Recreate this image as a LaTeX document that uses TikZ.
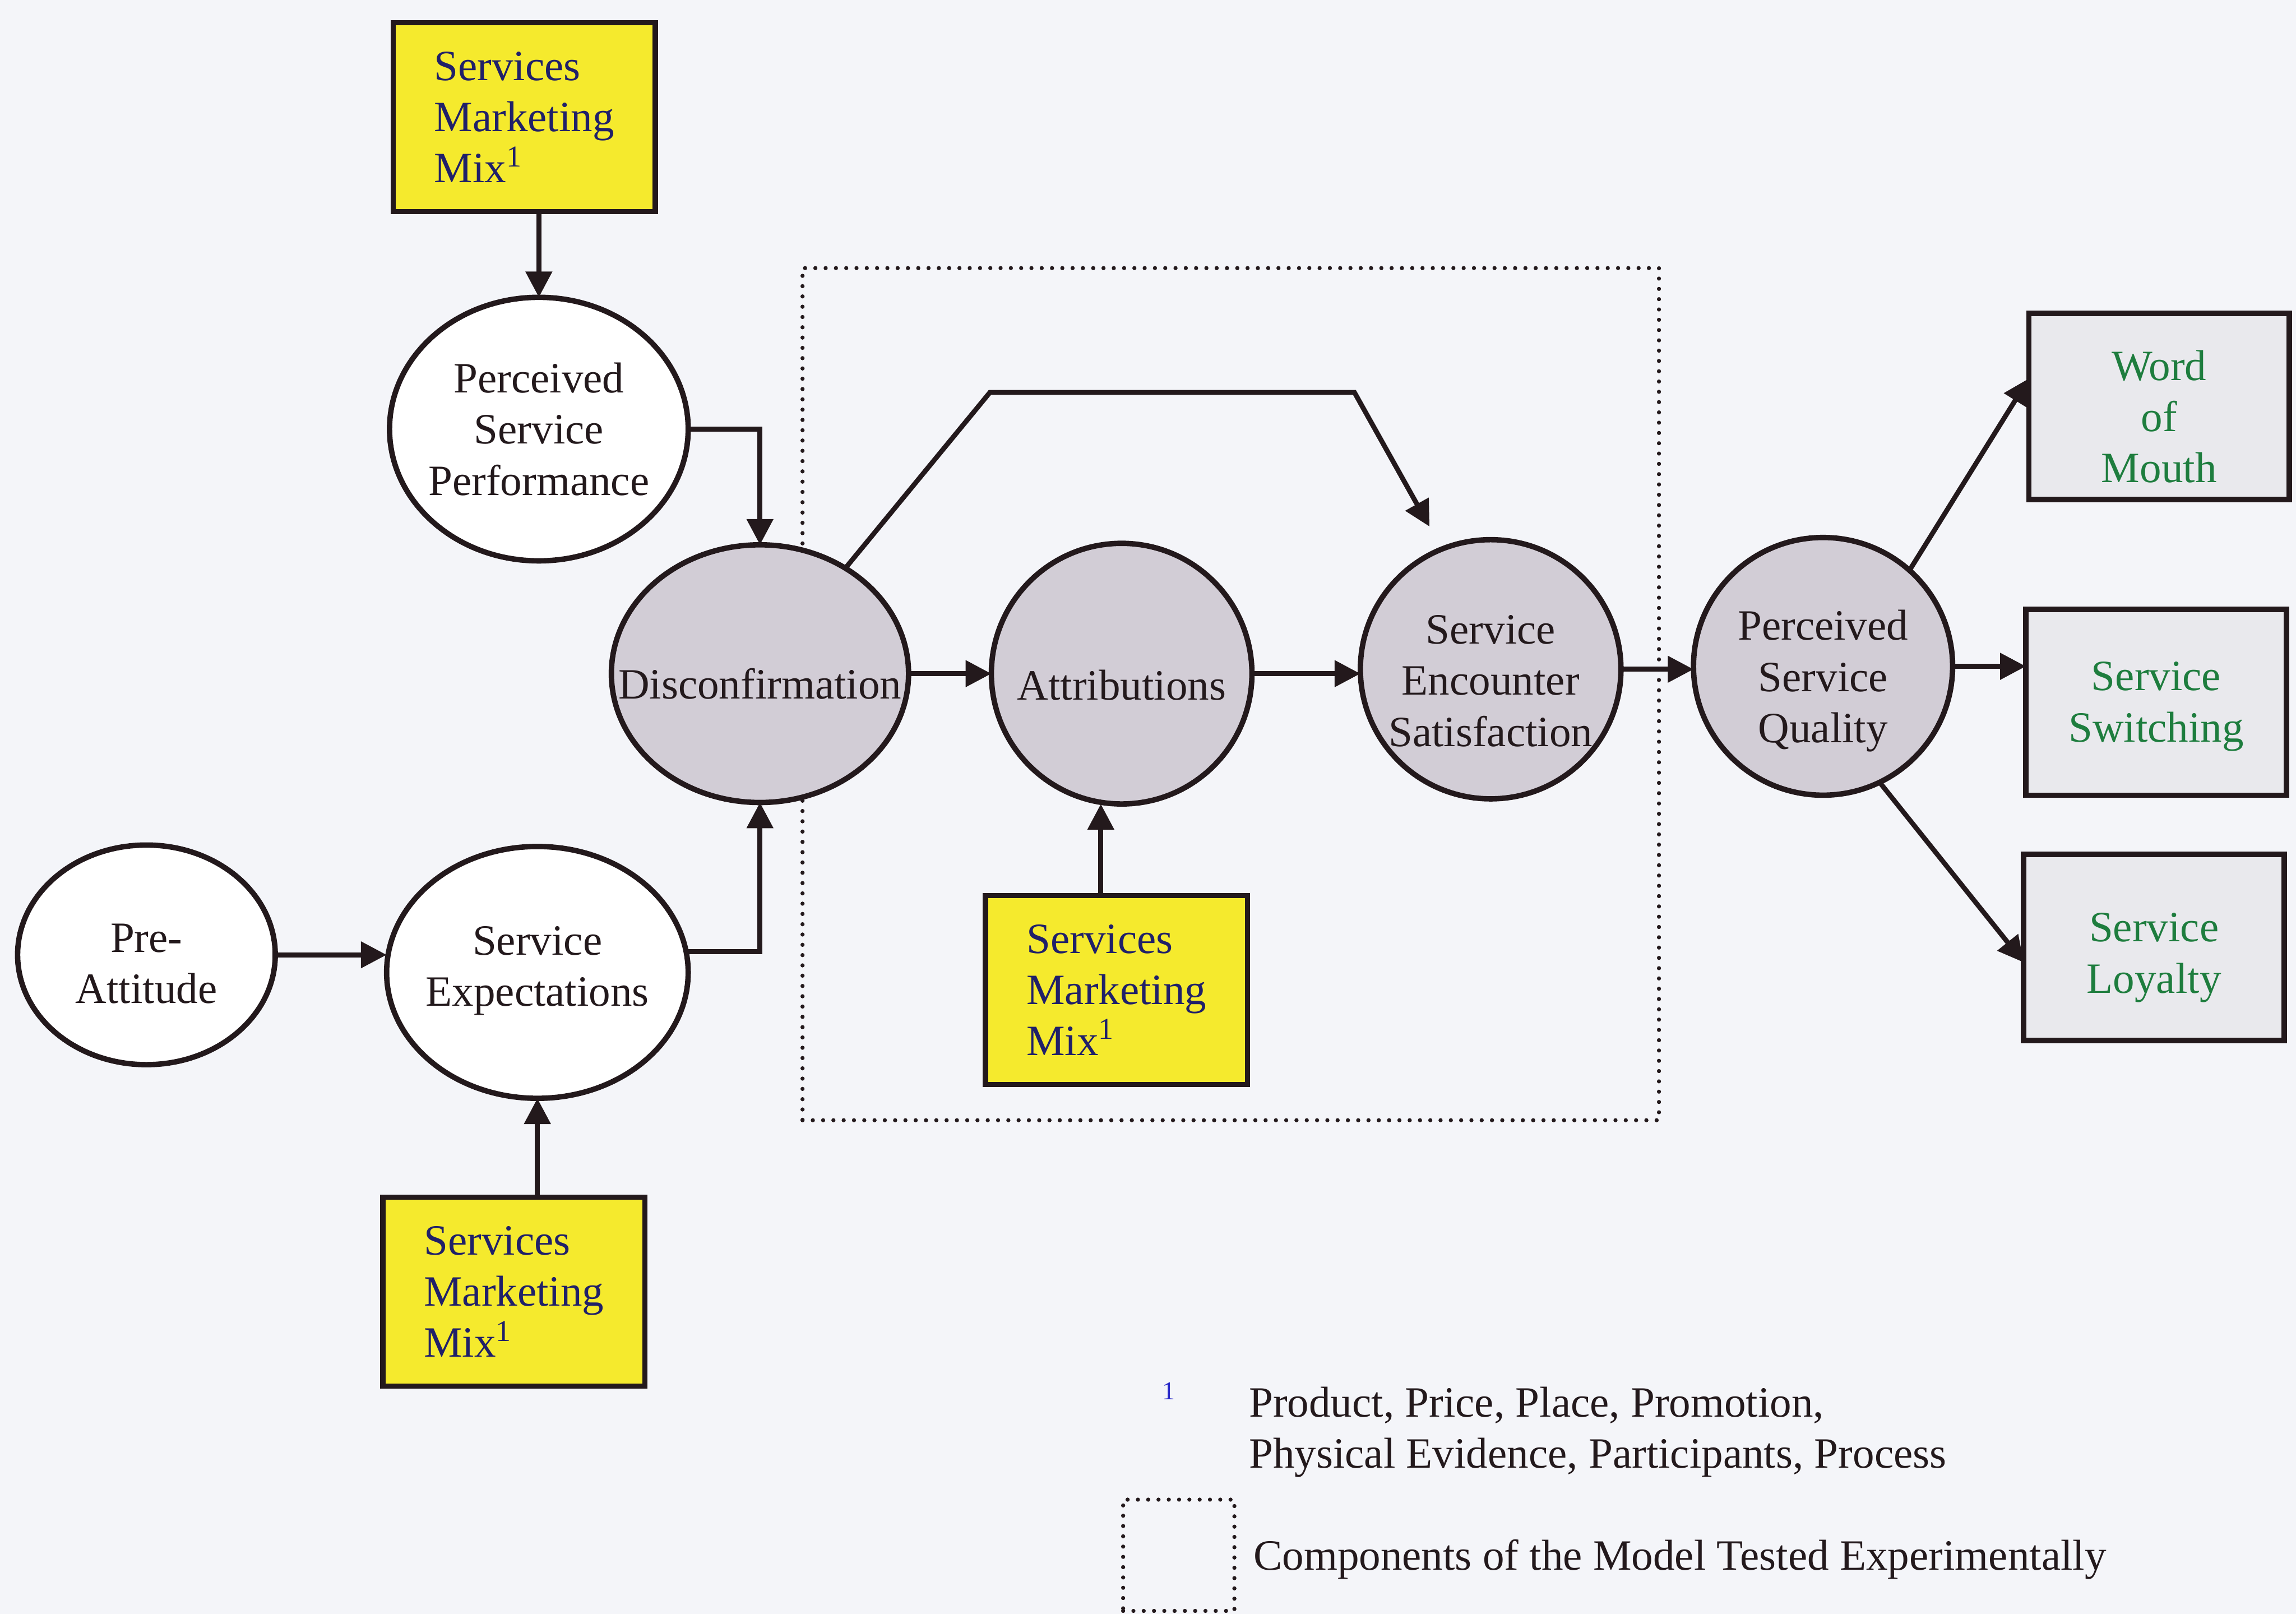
\documentclass[tikz,border=0pt]{standalone}
\usepackage{fontspec}
\setmainfont{Liberation Serif}
\usetikzlibrary{shapes.geometric,arrows.meta,calc}

\definecolor{ink}{RGB}{35,25,28}
\definecolor{paper}{RGB}{244,245,249}
\definecolor{mixfill}{RGB}{245,234,45}
\definecolor{mixtext}{RGB}{32,32,105}
\definecolor{latent}{RGB}{210,205,214}
\definecolor{outfill}{RGB}{233,233,237}
\definecolor{outtext}{RGB}{30,125,62}
\definecolor{notenum}{RGB}{40,40,200}

\begin{document}
\begin{tikzpicture}[x=0.02cm,y=-0.02cm,
  font=\fontsize{16.8}{19.9}\selectfont,
  every node/.style={inner sep=0pt, outer sep=0pt},
  construct/.style={ellipse, draw=ink, line width=2.1pt},
  observed/.style={construct, fill=white},
  tested/.style={construct, fill=latent},
  txt/.style={align=center, text=ink},
  outtxt/.style={align=center, text=outtext},
  mixbox/.style={rectangle, draw=ink, line width=2.1pt, fill=mixfill,
    minimum width=3.58cm, minimum height=2.58cm, align=left, text=mixtext},
  outbox/.style={rectangle, draw=ink, line width=2.1pt, fill=outfill,
    minimum width=3.56cm, minimum height=2.54cm},
  dotbox/.style={rectangle, draw=ink, line width=1.6pt, line cap=round,
    dash pattern=on 0pt off 4pt},
  arr/.style={draw=ink, line width=1.9pt, -{Triangle[length=10pt,width=10pt]}}
]
\useasboundingbox (0,0) rectangle (1568,1102);
\fill[paper] (0,0) rectangle (1568,1102);

% region of the model tested experimentally
\node[dotbox, minimum width=11.7cm, minimum height=11.64cm] (testzone) at (840.5,474) {};

% marketing mix inputs
\node[mixbox] (smm1) at (358,80) {Services\\Marketing\\Mix\textsuperscript{1}};
\node[mixbox] (smm2) at (762.5,676) {Services\\Marketing\\Mix\textsuperscript{1}};
\node[mixbox] (smm3) at (351,882) {Services\\Marketing\\Mix\textsuperscript{1}};

% constructs
\node[observed, minimum width=4.08cm, minimum height=3.6cm,
  label={[txt]center:Perceived\\Service\\Performance}] (psp) at (368,293) {};
\node[observed, minimum width=3.52cm, minimum height=3.0cm,
  label={[txt,yshift=-0.12cm]center:Pre-\\Attitude}] (pre) at (100,652) {};
\node[observed, minimum width=4.12cm, minimum height=3.44cm,
  label={[txt,yshift=0.02cm]center:Service\\Expectations}] (se) at (367,664) {};
\node[tested, minimum width=4.06cm, minimum height=3.52cm,
  label={[txt,yshift=-0.14cm]center:Disconfirmation}] (disc) at (519,460) {};
\node[tested, minimum width=3.56cm, minimum height=3.56cm,
  label={[txt,yshift=-0.16cm]center:Attributions}] (attr) at (766,460) {};
\node[tested, minimum width=3.56cm, minimum height=3.54cm,
  label={[txt,yshift=-0.16cm]center:Service\\Encounter\\Satisfaction}] (ses) at (1018,457) {};
\node[tested, minimum width=3.54cm, minimum height=3.52cm,
  label={[txt,yshift=-0.2cm]center:Perceived\\Service\\Quality}] (psq) at (1245,455) {};

% outcomes
\node[outbox, label={[outtxt,yshift=-0.14cm]center:Word\\of\\Mouth}] (wom) at (1474.5,277.5) {};
\node[outbox, label={[outtxt,yshift=-0.06cm]center:Service\\Switching}] (sw) at (1472.5,479.5) {};
\node[outbox, label={[outtxt,yshift=-0.14cm]center:Service\\Loyalty}] (loy) at (1471,647) {};

% connectors
\draw[arr] (smm1.south -| psp.north) -- (psp.north);
\draw[arr] (psp.east) -| (disc.north);
\draw[arr] (pre.east) -- (pre.east -| se.west);
\draw[arr] (se.8) -| (disc.south);
\draw[arr] (smm3.north -| se.south) -- (se.south);
\draw[arr] (disc.east) -- (disc.east -| attr.west);
\coordinate (m2) at ($(smm2.north west)!0.44!(smm2.north east)$);
\draw[arr] (m2) -- (m2 |- attr.south);
\draw[arr] (attr.east) -- (attr.east -| ses.west);
\coordinate (b1) at (676,268);
\coordinate (b2) at (925,268);
\draw[arr, shorten >=10pt] (disc.51) -- (b1) -- (b2) -- (ses.112);
\draw[arr] (ses.east) -- (ses.east -| psq.west);
\draw[arr] (psq.48) -- ($(wom.north west)!0.35!(wom.south west)$);
\draw[arr] (psq.east) -- (psq.east -| sw.west);
\draw[arr] (psq.-64) -- ($(loy.north west)!0.58!(loy.south west)$);

% key
\node[text=notenum, font=\fontsize{10}{12}\selectfont] (fnmark) at (798,950) {1};
\node[anchor=west, align=left, text=ink] (fntext) at (853,978)
  {Product, Price, Place, Promotion,\\Physical Evidence, Participants, Process};
\node[dotbox, minimum width=1.52cm, minimum height=1.52cm] (keybox) at (805,1062) {};
\node[anchor=west, text=ink] (keytext) at (856,1065) {Components of the Model Tested Experimentally};
\end{tikzpicture}
\end{document}
